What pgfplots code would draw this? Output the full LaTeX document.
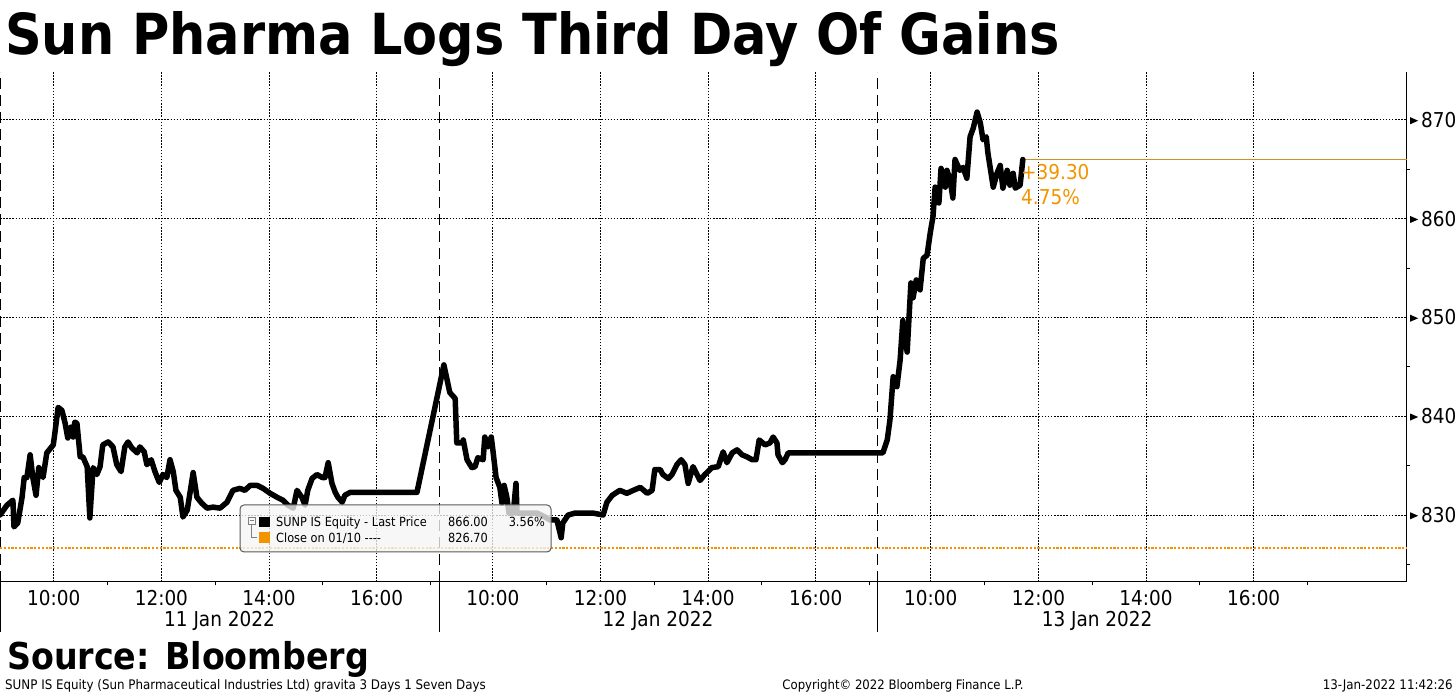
\documentclass[border=0pt]{standalone}
\usepackage{fontspec}
\setmainfont{DejaVu Sans}[FakeStretch=0.9]
\usepackage{pgfplots}
\pgfplotsset{compat=1.18}
\definecolor{bbor}{RGB}{242,148,0}
\newcommand{\ytri}{\tikz[baseline=-0.6ex]\fill[black] (0,-3.5pt)--(8pt,0)--(0,3.5pt)--cycle;\hspace{3pt}}
\begin{document}
\begin{tikzpicture}
\path[use as bounding box] (0pt,0pt) rectangle (1456pt,695pt);
\begin{axis}[
  at={(0pt,113pt)}, anchor=south west,
  width=1407pt, height=510pt, scale only axis,
  xmin=0, xmax=26.15, ymin=823.22, ymax=874.86,
  axis x line*=bottom, axis y line*=right,
  axis line style={black, line width=1pt, -},
  clip=false,
  xtick={1,3,5,7,9.16,11.16,13.16,15.16,17.30,19.30,21.30,23.30},
  xticklabels={10:00,12:00,14:00,16:00,10:00,12:00,14:00,16:00,10:00,12:00,14:00,16:00},
  minor xtick={2,4,6,8,10.16,12.16,14.16,16.16,18.30,20.30,22.30,24.30},
  ytick={830,840,850,860,870},
  yticklabels={\ytri 830,\ytri 840,\ytri 850,\ytri 860,\ytri 870},
  minor ytick={825,835,845,855,865},
  grid=major,
  major grid style={black, line width=1pt, dash pattern=on 1.5pt off 1.6pt},
  tick align=outside, major tick length=4pt, minor tick length=3.5pt,
  tick style={black, line width=0.8pt},
  every major y tick/.append style={draw=none},
  every major x tick/.append style={draw=none},
  ticklabel style={font=\fontsize{20.5}{24}\selectfont},
  yticklabel style={anchor=west, inner sep=0pt, xshift=-1pt},
  xticklabel style={anchor=north, yshift=-1pt},
]
% day boundaries
\draw[line width=1.6pt, dash pattern=on 11pt off 6pt] (axis cs:0,823.22) -- (axis cs:0,874.86);
\draw[line width=1pt, dash pattern=on 11pt off 6pt] (axis cs:8.16,823.22) -- (axis cs:8.16,874.86);
\draw[line width=1pt, dash pattern=on 11pt off 6pt] (axis cs:16.30,823.22) -- (axis cs:16.30,874.86);
\draw[line width=1.6pt] (axis cs:0,823.22) -- ++(0pt,-50pt);
\draw[line width=1pt] (axis cs:8.16,823.22) -- ++(0pt,-50pt);
\draw[line width=1pt] (axis cs:16.30,823.22) -- ++(0pt,-50pt);
\node[anchor=base, font=\fontsize{20.5}{24}\selectfont] at (axis cs:4.08,823.22) [yshift=-45pt] {11 Jan 2022};
\node[anchor=base, font=\fontsize{20.5}{24}\selectfont] at (axis cs:12.23,823.22) [yshift=-45pt] {12 Jan 2022};
\node[anchor=base, font=\fontsize{20.5}{24}\selectfont] at (axis cs:20.39,823.22) [yshift=-45pt] {13 Jan 2022};
% close on 01/10
\addplot[bbor, line width=1.8pt, dash pattern=on 2.2pt off 1.6pt] coordinates {(0,826.7) (26.15,826.7)};
% last price reference
\addplot[bbor!70!gray, line width=0.8pt] coordinates {(19.01,866.0) (26.15,866.0)};
% price
\addplot[black, line width=5.5pt, line join=round, line cap=round] coordinates {
(0.00,830.0) (0.13,831.0) (0.24,831.5) (0.26,828.8) (0.33,829.2) (0.41,831.8) (0.45,833.8) (0.50,833.8)
(0.56,836.1) (0.61,833.8) (0.67,832.0) (0.72,834.8) (0.80,833.8) (0.87,836.3) (0.99,837.1) (1.02,838.3)
(1.08,840.9) (1.15,840.6) (1.21,839.3) (1.26,837.8) (1.32,838.9) (1.36,837.9) (1.39,839.4) (1.43,839.3)
(1.49,835.9) (1.54,835.9) (1.62,834.9) (1.67,829.7) (1.73,834.8) (1.80,834.1) (1.86,834.9) (1.91,837.1)
(2.01,837.4) (2.10,836.9) (2.17,835.1) (2.25,834.4) (2.32,836.9) (2.38,837.4) (2.45,836.8) (2.55,836.3)
(2.60,836.9) (2.68,836.4) (2.73,835.1) (2.81,835.6) (2.88,834.4) (2.96,833.3) (3.03,834.1) (3.10,833.8)
(3.16,835.6) (3.22,834.4) (3.27,832.5) (3.35,831.8) (3.40,829.8) (3.48,830.5) (3.53,832.2) (3.59,834.3)
(3.66,831.8) (3.75,831.2) (3.85,830.7) (3.96,830.8) (4.09,830.7) (4.22,831.3) (4.33,832.5) (4.46,832.7)
(4.55,832.5) (4.65,833.0) (4.78,833.0) (4.89,832.7) (5.02,832.2) (5.15,831.8) (5.26,831.5) (5.35,831.0)
(5.45,830.7) (5.52,832.5) (5.61,831.8) (5.67,831.0) (5.72,832.5) (5.80,833.7) (5.89,834.1) (5.99,833.8)
(6.04,833.8) (6.10,835.3) (6.17,833.2) (6.23,832.3) (6.28,831.8) (6.36,831.3) (6.41,832.0) (6.51,832.3)
(7.75,832.3)
(8.25,845.2) (8.36,842.4) (8.46,841.8) (8.49,837.3) (8.59,837.3) (8.61,837.6) (8.68,835.6) (8.77,834.8)
(8.83,834.9) (8.88,835.8) (8.98,835.6) (9.01,837.9) (9.07,836.9) (9.13,837.9) (9.16,836.6) (9.22,833.8)
(9.29,832.8) (9.33,831.2) (9.37,833.0) (9.42,831.8) (9.46,830.2) (9.54,830.2) (9.59,833.2) (9.61,830.2)
(9.80,830.2) (9.98,830.2) (10.13,829.8) (10.22,829.5) (10.35,829.5) (10.43,827.7) (10.46,829.2) (10.56,830.0)
(10.69,830.2) (10.84,830.2) (11.02,830.2) (11.21,830.0) (11.28,831.3) (11.38,832.0) (11.52,832.5) (11.65,832.2)
(11.77,832.5) (11.90,832.8) (12.03,832.2) (12.12,832.5) (12.17,834.6) (12.27,834.6) (12.32,834.1) (12.42,833.7)
(12.49,834.1) (12.58,835.1) (12.66,835.6) (12.73,835.1) (12.79,833.2) (12.88,834.9) (13.01,833.5) (13.10,834.1)
(13.23,834.8) (13.35,834.9) (13.44,836.4) (13.51,835.3) (13.61,836.3) (13.70,836.6) (13.79,836.1) (13.88,835.9)
(13.98,835.6) (14.05,835.6) (14.11,837.6) (14.22,837.1) (14.31,837.3) (14.37,837.9) (14.44,837.3) (14.46,836.1)
(14.54,835.3) (14.59,835.6) (14.65,836.3)
(16.41,836.3)
(16.49,837.6) (16.54,839.6) (16.60,844.0) (16.67,843.0) (16.73,845.7) (16.78,849.7) (16.86,846.5) (16.93,853.5)
(16.97,852.0) (17.03,853.8) (17.10,852.8) (17.16,856.0) (17.23,856.3) (17.29,858.6) (17.34,860.2) (17.38,863.2)
(17.45,861.6) (17.49,865.1) (17.57,863.2) (17.60,864.9) (17.66,863.9) (17.71,862.1) (17.75,866.0) (17.84,864.9)
(17.90,865.2) (17.97,864.1) (18.03,868.3) (18.09,869.2) (18.16,870.8) (18.22,869.7) (18.27,868.0) (18.33,868.3)
(18.36,866.7) (18.46,863.2) (18.53,864.6) (18.59,865.4) (18.64,863.1) (18.72,864.9) (18.77,863.4) (18.83,864.6)
(18.87,863.1) (18.96,863.4) (19.01,866.0)
};
\end{axis}
% legend box
\draw[rounded corners=4pt, draw=black!65, line width=1pt, fill=black!4, fill opacity=0.78] (240pt,143pt) rectangle (551pt,190pt);
\draw[gray, line width=0.6pt] (248pt,171pt) rectangle (255pt,178pt);
\draw[gray, line width=0.6pt] (249.5pt,174.5pt) -- (253.5pt,174.5pt);
\draw[gray, line width=0.6pt] (251.5pt,171pt) -- (251.5pt,158pt) -- (257pt,158pt);
\fill[black] (259pt,168pt) rectangle (270pt,178pt);
\fill[bbor] (259pt,152pt) rectangle (270pt,163pt);
\begin{scope}[every node/.style={inner sep=0pt, font=\fontsize{12.6}{15}\selectfont}]
\node[anchor=base west] at (276pt,168pt) {SUNP IS Equity - Last Price};
\node[anchor=base east] at (488pt,168pt) {866.00};
\node[anchor=base east] at (545pt,168pt) {3.56\%};
\node[anchor=base west] at (276pt,152pt) {Close on 01/10 {-}{-}{-}{-}};
\node[anchor=base east] at (488pt,152pt) {826.70};
\end{scope}
% change labels
\node[anchor=base west, inner sep=0pt, text=bbor, font=\fontsize{20.5}{24}\selectfont] at (1021pt,515pt) {+39.30};
\node[anchor=base west, inner sep=0pt, text=bbor, font=\fontsize{20.5}{24}\selectfont] at (1021pt,490pt) {4.75\%};
% title and footer
\node[anchor=base west, inner sep=0pt, font=\fontsize{56.6}{60}\selectfont\bfseries] at (5pt,640pt) {Sun Pharma Logs Third Day Of Gains};
\node[anchor=base west, inner sep=0pt, font=\fontsize{37}{40}\selectfont\bfseries] at (7pt,25pt) {Source: Bloomberg};
\node[anchor=base west, inner sep=0pt, font=\fontsize{13.2}{15}\selectfont] at (5pt,5pt) {SUNP IS Equity (Sun Pharmaceutical Industries Ltd) gravita 3 Days 1 Seven Days};
\node[anchor=base, inner sep=0pt, font=\fontsize{13}{15}\selectfont] at (903pt,5pt) {Copyright© 2022 Bloomberg Finance L.P.};
\node[anchor=base east, inner sep=0pt, font=\fontsize{13.2}{15}\selectfont] at (1453pt,5pt) {13-Jan-2022 11:42:26};
\end{tikzpicture}
\end{document}
